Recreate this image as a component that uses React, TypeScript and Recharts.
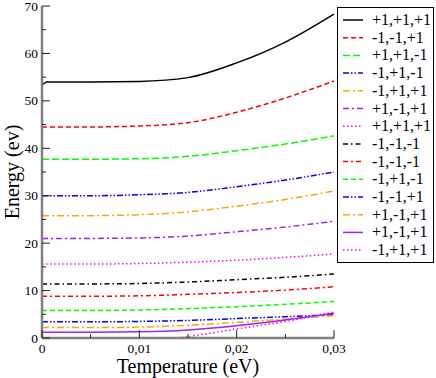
import React from 'react';
import { LineChart, Line, XAxis, YAxis } from 'recharts';

// x positions of the sampled points (eV)
const temperature = [0, 0.0005, 0.005, 0.01, 0.015, 0.02, 0.025, 0.03];

// energies (ev), top curve to bottom curve
const s1 = [53.3, 54.0, 54.0, 54.1, 54.9, 58.0, 62.4, 68.3];
const s2 = [44.5, 44.5, 44.5, 44.7, 45.4, 47.6, 50.6, 54.2];
const s3 = [37.7, 37.7, 37.7, 37.8, 38.3, 39.5, 40.9, 42.6];
const s4 = [30.0, 30.0, 30.0, 30.2, 30.7, 31.9, 33.3, 35.0];
const s5 = [25.8, 25.8, 25.8, 26.0, 26.6, 27.8, 29.2, 31.0];
const s6 = [21.0, 21.0, 21.0, 21.1, 21.5, 22.4, 23.4, 24.6];
const s7 = [15.6, 15.6, 15.6, 15.7, 16.0, 16.4, 17.0, 17.7];
const s8 = [11.4, 11.4, 11.4, 11.5, 11.8, 12.3, 12.8, 13.5];
const s9 = [8.8, 8.8, 8.8, 8.9, 9.2, 9.6, 10.1, 10.8];
const s10 = [5.8, 5.8, 5.8, 5.9, 6.2, 6.6, 7.1, 7.7];
const s11 = [3.4, 3.4, 3.4, 3.5, 3.7, 4.1, 4.5, 4.9];
const s12 = [2.2, 2.2, 2.2, 2.3, 2.7, 3.3, 4.0, 4.7];
const s13 = [1.2, 1.2, 1.2, 1.3, 1.7, 2.6, 3.8, 5.2];
const s14 = [-2.0, -2.0, -1.8, -1.0, 0.3, 1.9, 3.5, 5.5];

const labels = [
  '+1,+1,+1', '-1,-1,+1', '+1,+1,-1', '-1,+1,-1', '-1,+1,+1', '+1,-1,+1', '+1,+1,+1',
  '-1,-1,-1', '-1,-1,-1', '-1,+1,-1', '-1,-1,+1', '+1,-1,+1', '+1,-1,+1', '-1,+1,+1',
];

const xTicks = [0, 0.005, 0.01, 0.015, 0.02, 0.025, 0.03];
const yTicks = [0, 5, 10, 15, 20, 25, 30, 35, 40, 45, 50, 55, 60, 65, 70];

const values = [s1, s2, s3, s4, s5, s6, s7, s8, s9, s10, s11, s12, s13, s14];

const styles = [
  { color: '#000000', dash: undefined },
  { color: '#ff0000', dash: '5 3' },
  { color: '#00ff00', dash: '7 3' },
  { color: '#0000ff', dash: '6 2 1.5 2 1.5 2' },
  { color: '#ffa500', dash: '7 3 2 3' },
  { color: '#a020f0', dash: '6 3 2 3' },
  { color: '#ff00ff', dash: '1.5 2.5' },
  { color: '#000000', dash: '5 3 1.5 3' },
  { color: '#ff0000', dash: '5 3 2 3' },
  { color: '#00ff00', dash: '5 3' },
  { color: '#0000ff', dash: '6 2 1.5 2 1.5 2' },
  { color: '#ffa500', dash: '7 3 2 3' },
  { color: '#a020f0', dash: undefined },
  { color: '#ff00ff', dash: '1.5 2.5' },
];

const data = temperature.map((t, i) => {
  const row: Record<string, number> = { t };
  values.forEach((v, k) => {
    row['s' + k] = v[i];
  });
  return row;
});

const FONT = "'Liberation Serif', 'Times New Roman', Times, serif";
const TICK = '#222';
const FRAME = '#808080';

const isMajorX = (v: number) => Math.round(v * 1000) % 10 === 0;
const isMajorY = (v: number) => v % 10 === 0;
const fmtX = (v: number) => (v === 0 ? '0' : v.toFixed(2).replace('.', ','));

const BottomTick = (props: any) => {
  const { x, y, payload } = props;
  const major = isMajorX(payload.value);
  return (
    <g>
      <line x1={x} x2={x} y1={y} y2={y - (major ? 8 : 4)} stroke={TICK} strokeWidth={1} />
      {major && (
        <text x={x} y={y + 15} textAnchor="middle" fontSize={13.5} style={{ fontFamily: FONT }} fill="#000">
          {fmtX(payload.value)}
        </text>
      )}
    </g>
  );
};

const TopTick = (props: any) => {
  const { x, y, payload } = props;
  const major = isMajorX(payload.value);
  return <line x1={x} x2={x} y1={y} y2={y + (major ? 8 : 4)} stroke={TICK} strokeWidth={1} />;
};

const LeftTick = (props: any) => {
  const { x, y, payload } = props;
  const major = isMajorY(payload.value);
  return (
    <g>
      <line x1={x} x2={x + (major ? 8 : 4)} y1={y} y2={y} stroke={TICK} strokeWidth={1} />
      {major && (
        <text x={x - 4} y={y + 4.5} textAnchor="end" fontSize={13.5} style={{ fontFamily: FONT }} fill="#000">
          {payload.value}
        </text>
      )}
    </g>
  );
};

const RightTick = (props: any) => {
  const { x, y, payload } = props;
  const major = isMajorY(payload.value);
  return <line x1={x} x2={x - (major ? 8 : 4)} y1={y} y2={y} stroke={TICK} strokeWidth={1} />;
};

function LegendBox() {
  const rowH = 17.7;
  return (
    <svg
      width={98}
      height={257}
      style={{ position: 'absolute', left: 337, top: 7, background: '#fff' }}
    >
      <rect x={0.5} y={0.5} width={96} height={255} fill="#fff" stroke="#000" strokeWidth={1} />
      {labels.map((lab, i) => {
        const cy = 13 + i * rowH;
        return (
          <g key={i}>
            <line
              x1={6}
              x2={26}
              y1={cy}
              y2={cy}
              stroke={styles[i].color}
              strokeWidth={1.5}
              strokeDasharray={styles[i].dash}
            />
            <text x={35} y={cy + 5} fontSize={16} style={{ fontFamily: FONT }} fill="#000">
              {lab}
            </text>
          </g>
        );
      })}
    </svg>
  );
}

export default function App() {
  return (
    <div
      style={{
        position: 'absolute',
        left: 0,
        top: 0,
        width: 436,
        height: 378,
        background: '#fff',
        fontFamily: FONT,
      }}
    >
      <LineChart
        width={436}
        height={378}
        data={data}
        margin={{ top: 6, right: 102, bottom: 0, left: 0 }}
      >
        <XAxis
          dataKey="t"
          type="number"
          domain={[0, 0.03]}
          ticks={xTicks}
          interval={0}
          height={40}
          tickSize={0}
          tickMargin={0}
          tickLine={false}
          axisLine={{ stroke: FRAME, strokeWidth: 2.5 }}
          tick={<BottomTick />}
        />
        <XAxis
          xAxisId="top"
          orientation="top"
          dataKey="t"
          type="number"
          domain={[0, 0.03]}
          ticks={xTicks}
          interval={0}
          height={0}
          tickSize={0}
          tickMargin={0}
          tickLine={false}
          axisLine={{ stroke: FRAME, strokeWidth: 2.5 }}
          tick={<TopTick />}
        />
        <YAxis
          type="number"
          domain={[0, 70]}
          ticks={yTicks}
          interval={0}
          width={42}
          allowDataOverflow
          tickSize={0}
          tickMargin={0}
          tickLine={false}
          axisLine={{ stroke: FRAME, strokeWidth: 2.5 }}
          tick={<LeftTick />}
        />
        <YAxis
          yAxisId="right"
          orientation="right"
          type="number"
          domain={[0, 70]}
          ticks={yTicks}
          interval={0}
          width={0}
          tickSize={0}
          tickMargin={0}
          tickLine={false}
          axisLine={{ stroke: FRAME, strokeWidth: 2.5 }}
          tick={<RightTick />}
        />
        {values.map((_, k) => (
          <Line
            key={k}
            dataKey={'s' + k}
            name={labels[k]}
            type="monotone"
            stroke={styles[k].color}
            strokeWidth={1.5}
            strokeDasharray={styles[k].dash}
            dot={false}
            activeDot={false}
            isAnimationActive={false}
          />
        ))}
      </LineChart>
      <div
        style={{
          position: 'absolute',
          left: 12,
          top: 172,
          transform: 'translate(-50%, -50%) rotate(-90deg)',
          fontSize: 20,
          whiteSpace: 'nowrap',
          lineHeight: 1,
        }}
      >
        Energy (ev)
      </div>
      <div
        style={{
          position: 'absolute',
          left: 188,
          top: 356,
          transform: 'translateX(-50%)',
          fontSize: 20,
          whiteSpace: 'nowrap',
          lineHeight: 1,
        }}
      >
        Temperature (eV)
      </div>
      <LegendBox />
    </div>
  );
}
